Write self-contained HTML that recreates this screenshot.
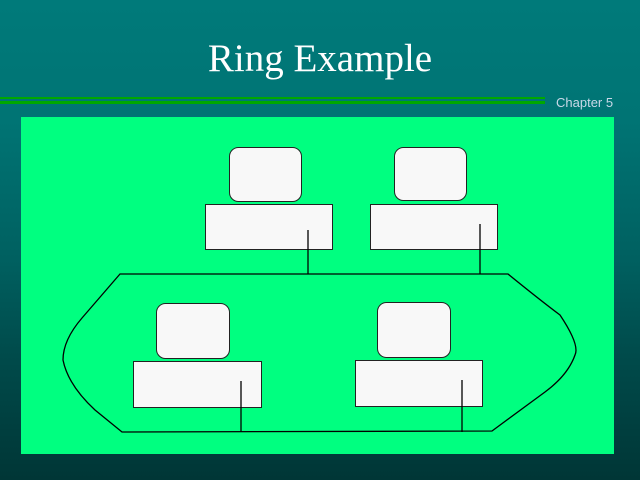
<!DOCTYPE html>
<html><head><style>
html,body{margin:0;padding:0}
body{width:640px;height:480px;position:relative;overflow:hidden;
background:linear-gradient(#007a7a 0px,#007474 120px,#006060 260px,#004c4c 350px,#003636 480px);
font-family:"Liberation Sans",sans-serif}
.t{position:absolute;left:0;width:640px;top:36px;text-align:center;color:#fff;font-family:"Liberation Serif",serif;font-size:39px}
.c{position:absolute;left:556px;top:95px;color:#c8d8e8;font-size:13px}
</style></head><body>
<div class="t">Ring Example</div>
<div class="c">Chapter 5</div>
<svg width="640" height="480" style="position:absolute;left:0;top:0">
<rect x="0" y="97" width="545" height="2" fill="#00a800"/>
<rect x="0" y="101" width="545" height="3" fill="#00a800"/>
<rect x="21" y="117" width="593" height="337" fill="#00ff80"/>
<g fill="none" stroke="#000" stroke-width="1.3">
<path d="M120 274 L508 274 Q540 300 560 315 Q580 345 575 355 Q568 375 545 392 L492 431 L122 432 L95 410 Q68 385 63 360 Q63 340 82 318 Z"/>
<line x1="308" y1="230" x2="308" y2="274"/>
<line x1="480" y1="224" x2="480" y2="274"/>
<line x1="241" y1="381" x2="241" y2="432"/>
<line x1="462" y1="380" x2="462" y2="432"/>
</g>
<g fill="#f8f8f8" stroke="#222" stroke-width="1">
<rect x="229.5" y="147.5" width="72" height="54" rx="9"/>
<rect x="205.5" y="204.5" width="127" height="45"/>
<rect x="394.5" y="147.5" width="72" height="53" rx="9"/>
<rect x="370.5" y="204.5" width="127" height="45"/>
<rect x="156.5" y="303.5" width="73" height="55" rx="9"/>
<rect x="133.5" y="361.5" width="128" height="46"/>
<rect x="377.5" y="302.5" width="73" height="55" rx="9"/>
<rect x="355.5" y="360.5" width="127" height="46"/>
</g>
<g stroke="#000" stroke-width="1.3">
<line x1="308" y1="230" x2="308" y2="250"/>
<line x1="480" y1="224" x2="480" y2="250"/>
<line x1="241" y1="381" x2="241" y2="408"/>
<line x1="462" y1="380" x2="462" y2="407"/>
</g>
</svg>
</body></html>
